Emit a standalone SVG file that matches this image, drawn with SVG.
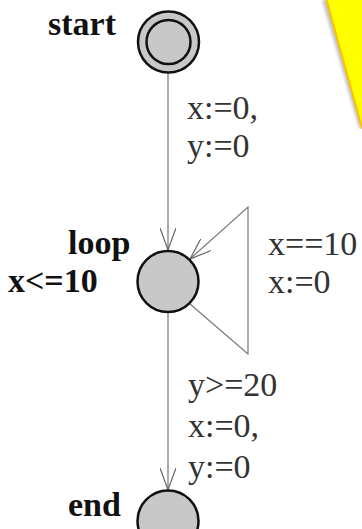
<svg xmlns="http://www.w3.org/2000/svg" width="362" height="529" viewBox="0 0 362 529">
  <defs>
    <style>
      .loc { fill: #c8c8c8; stroke: #111; stroke-width: 2.5; }
      .edge { fill: none; stroke: #777; stroke-width: 1.2; }
      .name { font-family: "Liberation Serif", "Times New Roman", serif; font-weight: bold; font-size: 34px; fill: #111; }
      .lbl { font-family: "Liberation Serif", "Times New Roman", serif; font-size: 34px; fill: #333; }
    </style>
    <marker id="arr" viewBox="0 0 22 16" refX="22" refY="8" markerWidth="22" markerHeight="16" markerUnits="userSpaceOnUse" orient="auto">
      <path d="M0,0 L22,8 L0,16" fill="none" stroke="#666" stroke-width="1.2"/>
    </marker>
    <filter id="blur" x="-20%" y="-20%" width="140%" height="140%">
      <feGaussianBlur stdDeviation="1.5"/>
    </filter>
  </defs>
  <rect width="362" height="529" fill="#fff"/>

  <g id="note">
    <polygon points="322,0 362,0 362,128 359,128" fill="#999" opacity="0.6" filter="url(#blur)"/>
    <polygon points="326,-2 364,-2 364,128 362,128" fill="#ffff00" stroke="#ffc000" stroke-width="2"/>
  </g>

  <g id="connectors">
    <line class="edge" x1="168" y1="73" x2="168" y2="250" marker-end="url(#arr)"/>
    <polyline class="edge" points="190,304 248,354 248,207 190,259" marker-end="url(#arr)"/>
    <line class="edge" x1="168" y1="313" x2="168" y2="490" marker-end="url(#arr)"/>
    <text class="lbl" x="187" y="119">x:=0,</text>
    <text class="lbl" x="187" y="157">y:=0</text>
    <text class="lbl" x="268" y="255">x==10</text>
    <text class="lbl" x="268" y="293">x:=0</text>
    <text class="lbl" x="188" y="396">y&gt;=20</text>
    <text class="lbl" x="188" y="437">x:=0,</text>
    <text class="lbl" x="188" y="478">y:=0</text>
  </g>

  <g id="start">
    <circle class="loc" cx="168.5" cy="42" r="30.5"/>
    <circle class="loc" cx="168.5" cy="42" r="22"/>
    <text class="name" x="48" y="35">start</text>
  </g>

  <g id="loop">
    <circle class="loc" cx="168" cy="281.5" r="30.5"/>
    <text class="name" x="68" y="254">loop</text>
    <text class="name" x="8" y="292">x&lt;=10</text>
  </g>

  <g id="end">
    <circle class="loc" cx="168" cy="521" r="30.5"/>
    <text class="name" x="68" y="516">end</text>
  </g>
</svg>
